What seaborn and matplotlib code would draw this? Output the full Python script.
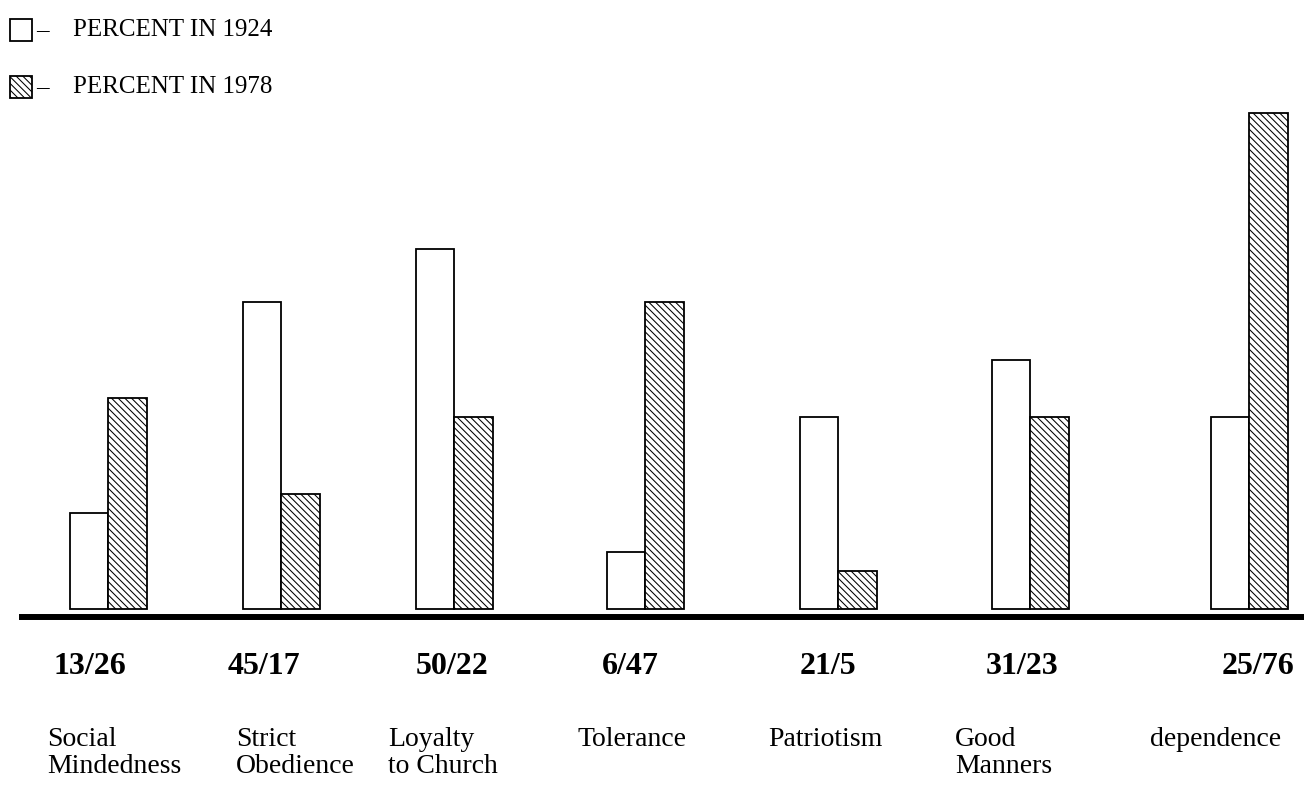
import numpy as np
import pandas as pd
import seaborn as sns
import matplotlib
matplotlib.use("Agg")
import matplotlib.pyplot as plt
from matplotlib.patches import Rectangle

# ---------------- data ----------------
categories = ["Social\nMindedness", "Strict\nObedience", "Loyalty\nto Church",
              "Tolerance", "Patriotism", "Good\nManners", "dependence"]
pct_1924 = [13, 45, 50, 6, 21, 31, 25]          # printed values
pct_1978 = [26, 17, 22, 47, 5, 23, 76]
# bar heights as drawn in the source graphic (tallest bar = 76)
bar_1924 = [14.7, 47.0, 55.1, 8.7, 29.4, 38.1, 29.4]
bar_1978 = [32.3, 17.6, 29.4, 47.0, 5.8, 29.4, 76.0]
series = ["PERCENT IN 1924", "PERCENT IN 1978"]

# ---------------- layout (pixels) ----------------
W, H = 1304, 798
group_x = [108, 281, 454, 645, 838, 1030, 1249]      # group centres
value_label_x = [90, 264, 452, 630, 828, 1022, 1258]
cat_label_x = [47, 236, 388, 577, 768, 955, 1150]
bar_base_px = 609
px_per_unit = 6.53

sns.set_theme(style="white")
plt.rcParams["font.family"] = ["Liberation Serif", "DejaVu Serif"]
plt.rcParams["text.color"] = "black"
plt.rcParams["hatch.linewidth"] = 0.75
plt.rcParams["hatch.color"] = "black"
HATCH = "\\" * 5

df = pd.DataFrame({
    "pos": group_x * 2,
    "height": bar_1924 + bar_1978,
    "year": [series[0]] * len(group_x) + [series[1]] * len(group_x),
})

fig = plt.figure(figsize=(W / 100, H / 100), dpi=100)
ax = fig.add_axes([0, 0, 1, 1])

sns.barplot(data=df, x="pos", y="height", hue="year", hue_order=series,
            native_scale=True, width=77 / 173, dodge=True,
            palette=["white", "white"], edgecolor="black", linewidth=1.3,
            saturation=1, errorbar=None, legend=False, ax=ax)

for bar in ax.containers[1]:
    bar.set_hatch(HATCH)

ax.set_xlim(0, W)
ax.set_ylim(-(H - bar_base_px) / px_per_unit, bar_base_px / px_per_unit)
ax.set_xlabel("")
ax.set_ylabel("")
ax.set_xticks([])
ax.set_yticks([])
for s in ["top", "right", "left"]:
    ax.spines[s].set_visible(False)
ax.spines["bottom"].set_visible(True)
ax.spines["bottom"].set_position(("data", -(617 - bar_base_px) / px_per_unit))
ax.spines["bottom"].set_linewidth(4.3)
ax.spines["bottom"].set_color("black")
ax.spines["bottom"].set_bounds(22, 1303)
ax.set_facecolor("white")
fig.patch.set_facecolor("white")


def fx(x):
    return x / W


def fy(y):
    return 1 - y / H


# legend
leg_fs = 18
leg_rows = [30, 87]
for i, (lab, y) in enumerate(zip(series, leg_rows)):
    r = Rectangle((fx(10), fy(y + 11)), 22 / W, 22 / H, transform=fig.transFigure,
                  facecolor="white", edgecolor="black", linewidth=1.3,
                  hatch=HATCH if i == 1 else None)
    fig.add_artist(r)
    fig.text(fx(36), fy(y), "\u2013", fontsize=leg_fs, va="center", ha="left",
             color="black")
    fig.text(fx(73), fy(y), lab, fontsize=leg_fs, va="center", ha="left",
             color="black")

# value labels and category labels
for a, b, x in zip(pct_1924, pct_1978, value_label_x):
    fig.text(fx(x), fy(674), f"{a}/{b}", fontsize=23, fontweight="bold",
             ha="center", va="baseline", color="black")
for c, x in zip(categories, cat_label_x):
    fig.text(fx(x), fy(727), c, fontsize=20, ha="left", va="top",
             linespacing=1.1, color="black")

fig.savefig("out.png", dpi=100, facecolor="white")
